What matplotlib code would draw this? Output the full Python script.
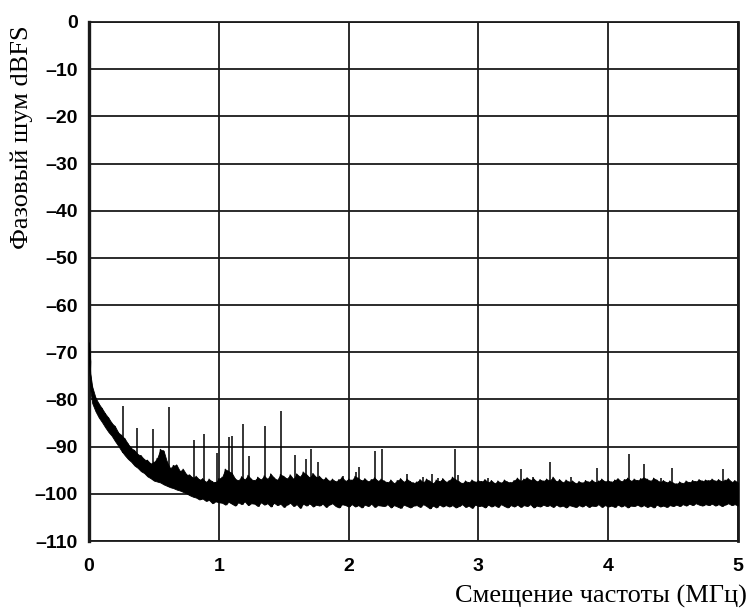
import numpy as np
import matplotlib
matplotlib.use("Agg")
import matplotlib.pyplot as plt

# ---------------- data ----------------
# noise band: frequency grid (MHz) and upper / lower envelopes (dBFS)
band_start_freq = [0.0, 0.01]
band_start_upper = [-68.0, -74.5]
band_start_lower = [-72.0, -78.0]
band_step = 0.025  # MHz, regular grid from 0.025 to 5.0

band_upper = [
    -77.3, -79.6, -80.9, -81.9, -83.0, -83.9, -85.0, -85.7, -87.0, -87.6,
    -88.3, -89.4, -90.3, -90.8, -91.6, -91.9, -92.7, -92.9, -93.6, -93.3,
    -92.5, -90.6, -90.9, -93.2, -94.6, -94.0, -93.9, -95.2, -94.8, -95.9,
    -96.0, -96.6, -96.3, -97.0, -96.8, -97.5, -96.9, -97.4, -97.6, -96.8,
    -96.5, -94.8, -95.2, -95.6, -96.8, -97.2, -96.4, -97.0, -96.1, -96.9,
    -97.2, -96.5, -97.0, -96.2, -96.9, -95.8, -96.6, -97.1, -95.9, -96.3,
    -96.8, -96.0, -96.9, -95.8, -96.4, -95.4, -95.9, -96.6, -95.7, -96.5,
    -96.3, -97.0, -96.6, -97.3, -96.9, -97.4, -97.0, -96.5, -97.3, -96.9,
    -97.1, -96.3, -96.7, -97.2, -96.8, -97.4, -97.0, -96.6, -97.3, -96.9,
    -97.3, -97.6, -97.1, -97.8, -97.2, -96.8, -97.5, -96.9, -97.4, -97.7,
    -97.5, -97.0, -97.6, -96.9, -97.3, -97.8, -97.1, -97.4, -96.8, -97.5,
    -97.2, -96.5, -97.0, -97.4, -97.8, -97.3, -97.6, -97.1, -97.5, -97.2,
    -97.4, -97.0, -97.6, -97.2, -97.8, -97.3, -97.7, -97.1, -97.5, -97.6,
    -97.2, -96.7, -97.3, -96.9, -96.6, -97.1, -96.8, -97.4, -97.0, -97.3,
    -96.9, -97.2, -96.5, -97.4, -97.0, -97.6, -97.1, -97.5, -97.3, -97.8,
    -97.4, -97.7, -97.2, -97.5, -97.1, -97.6, -97.3, -96.9, -97.4, -97.2,
    -97.5, -97.1, -96.8, -97.4, -97.0, -96.7, -97.3, -96.9, -97.2, -96.8,
    -96.6, -96.9, -97.3, -96.7, -97.1, -97.5, -97.2, -97.6, -97.3, -97.7,
    -97.9, -97.5, -97.8, -97.3, -97.6, -97.2, -97.4, -97.0, -97.3, -97.1,
    -97.2, -96.9, -97.3, -97.0, -97.4, -97.1, -96.8, -97.5, -97.2, -97.6,
]
band_lower = [
    -80.8, -82.5, -83.8, -84.8, -85.9, -86.9, -87.7, -88.8, -89.8, -90.9,
    -91.8, -92.6, -93.2, -94.0, -94.5, -95.2, -95.6, -96.3, -96.7, -97.2,
    -97.4, -97.6, -98.0, -98.3, -98.6, -98.8, -99.1, -99.3, -99.6, -99.9,
    -100.3, -100.6, -100.8, -101.2, -101.0, -101.5, -101.3, -102.0, -101.6, -101.8,
    -101.9, -102.3, -101.7, -102.1, -102.5, -101.8, -102.2, -101.6, -102.4, -102.0,
    -102.1, -102.6, -101.8, -102.3, -102.0, -102.7, -101.9, -102.4, -102.1, -102.8,
    -102.3, -101.9, -102.6, -102.2, -103.0, -102.1, -102.5, -102.0, -102.7, -102.3,
    -102.5, -102.1, -102.8, -102.3, -102.0, -102.6, -102.9, -102.2, -102.4, -102.7,
    -102.2, -102.7, -102.4, -102.9, -102.3, -102.6, -102.1, -102.8, -102.4, -102.5,
    -102.6, -102.2, -102.9, -102.4, -102.7, -103.0, -102.3, -102.6, -102.9, -102.5,
    -102.4, -102.8, -102.2, -102.6, -103.1, -102.5, -102.9, -102.3, -102.7, -102.4,
    -102.7, -102.4, -102.9, -102.6, -102.2, -102.8, -102.5, -103.0, -102.3, -102.6,
    -102.5, -102.9, -102.3, -102.7, -102.4, -102.8, -102.2, -102.6, -102.9, -102.4,
    -102.7, -102.3, -102.8, -102.4, -102.6, -102.2, -102.9, -102.5, -102.7, -102.3,
    -102.6, -102.4, -102.8, -102.3, -102.7, -102.5, -102.9, -102.4, -102.6, -102.8,
    -102.4, -102.7, -102.3, -102.8, -102.5, -102.6, -102.2, -102.8, -102.4, -102.7,
    -102.5, -102.8, -102.3, -102.7, -102.4, -102.9, -102.5, -102.6, -102.3, -102.7,
    -102.4, -102.8, -102.5, -102.9, -102.3, -102.7, -102.5, -102.8, -102.4, -102.6,
    -102.3, -102.6, -102.2, -102.5, -102.1, -102.4, -102.0, -102.3, -102.5, -102.2,
    -102.4, -102.1, -102.5, -102.2, -102.6, -102.3, -102.0, -102.4, -102.2, -102.5,
]

# discrete spurs: frequency (MHz) and peak level (dBFS)
spur_freq = [0.26, 0.367, 0.496, 0.616, 0.809, 0.883, 0.989, 1.08, 1.10, 1.189,
             1.235, 1.359, 1.479, 1.59, 1.672, 1.713, 1.767, 1.96, 2.057, 2.083,
             2.203, 2.255, 2.45, 2.576, 2.64, 2.69, 2.82, 2.845, 3.076, 3.326,
             3.42, 3.55, 3.71, 3.914, 4.158, 4.273, 4.41, 4.49, 4.887]
spur_peak = [-81.4, -86.1, -86.3, -81.7, -88.6, -87.3, -91.3, -88.0, -87.8, -85.1,
             -92.0, -85.6, -82.4, -91.8, -92.7, -90.6, -93.2, -96.2, -95.3, -94.4,
             -90.9, -90.4, -95.9, -96.5, -95.8, -96.7, -90.4, -96.0, -96.7, -94.8,
             -96.4, -93.2, -96.5, -94.5, -91.6, -93.7, -96.6, -94.6, -94.7]

x_ticks = [0, 1, 2, 3, 4, 5]
x_ticklabels = ["0", "1", "2", "3", "4", "5"]
y_ticks = [-110, -100, -90, -80, -70, -60, -50, -40, -30, -20, -10, 0]
y_ticklabels = ["\u2013110", "\u2013100", "\u201390", "\u201380", "\u201370", "\u201360",
                "\u201350", "\u201340", "\u201330", "\u201320", "\u201310", "0"]

y_label = "Фазовый шум dBFS"
x_label = "Смещение частоты (МГц)"

# ---------------- figure ----------------
fig = plt.figure(figsize=(7.49, 6.13), dpi=100)
ax = fig.add_axes([89 / 749, 72 / 613, (738 - 89) / 749, (541 - 22) / 613])

freq = np.concatenate([band_start_freq, band_step * np.arange(1, len(band_upper) + 1)])
upper = np.concatenate([band_start_upper, band_upper])
lower = np.concatenate([band_start_lower, band_lower])

# dense core of the noise trace
ax.fill_between(freq, lower, upper, color="black", linewidth=0.6, zorder=3)
# saw-tooth trace between the envelopes gives the spiky noise texture
zig_x = np.empty(2 * len(freq))
zig_y = np.empty(2 * len(freq))
zig_x[0::2] = freq
zig_x[1::2] = freq + band_step / 2
zig_y[0::2] = upper
zig_y[1::2] = lower
zig_x = np.clip(zig_x, 0, 5)
ax.plot(zig_x, zig_y, color="black", linewidth=0.9, zorder=3)

spur_base = np.interp(spur_freq, freq, lower)
ax.vlines(spur_freq, spur_base, spur_peak, color="black", linewidth=1.1, zorder=3)

ax.set_xlim(0, 5)
ax.set_ylim(-110, 0)
ax.set_xticks(x_ticks)
ax.set_xticklabels(x_ticklabels)
ax.set_yticks(y_ticks)
ax.set_yticklabels(y_ticklabels)

for lab in ax.get_xticklabels() + ax.get_yticklabels():
    lab.set_fontfamily("Liberation Sans")
    lab.set_fontweight("bold")
    lab.set_fontsize(14)
ax.tick_params(axis="both", length=0)
ax.tick_params(axis="y", pad=8)
ax.tick_params(axis="x", pad=12)

ax.grid(True, color="#1a1a1a", linewidth=1.3, zorder=1)
ax.set_axisbelow(True)
for name, sp in ax.spines.items():
    sp.set_color("#1a1a1a")
    sp.set_linewidth(1.3)
ax.spines["left"].set_linewidth(2.4)
ax.spines["right"].set_linewidth(2.0)

fig.text(21.7 / 749, 1 - 137 / 613, y_label, rotation=90, ha="center", va="center",
         family="Liberation Serif", fontsize=19)
fig.text(747 / 749, 1 - 596 / 613, x_label, ha="right", va="center",
         family="Liberation Serif", fontsize=19)

fig.savefig("out.png", dpi=100)
